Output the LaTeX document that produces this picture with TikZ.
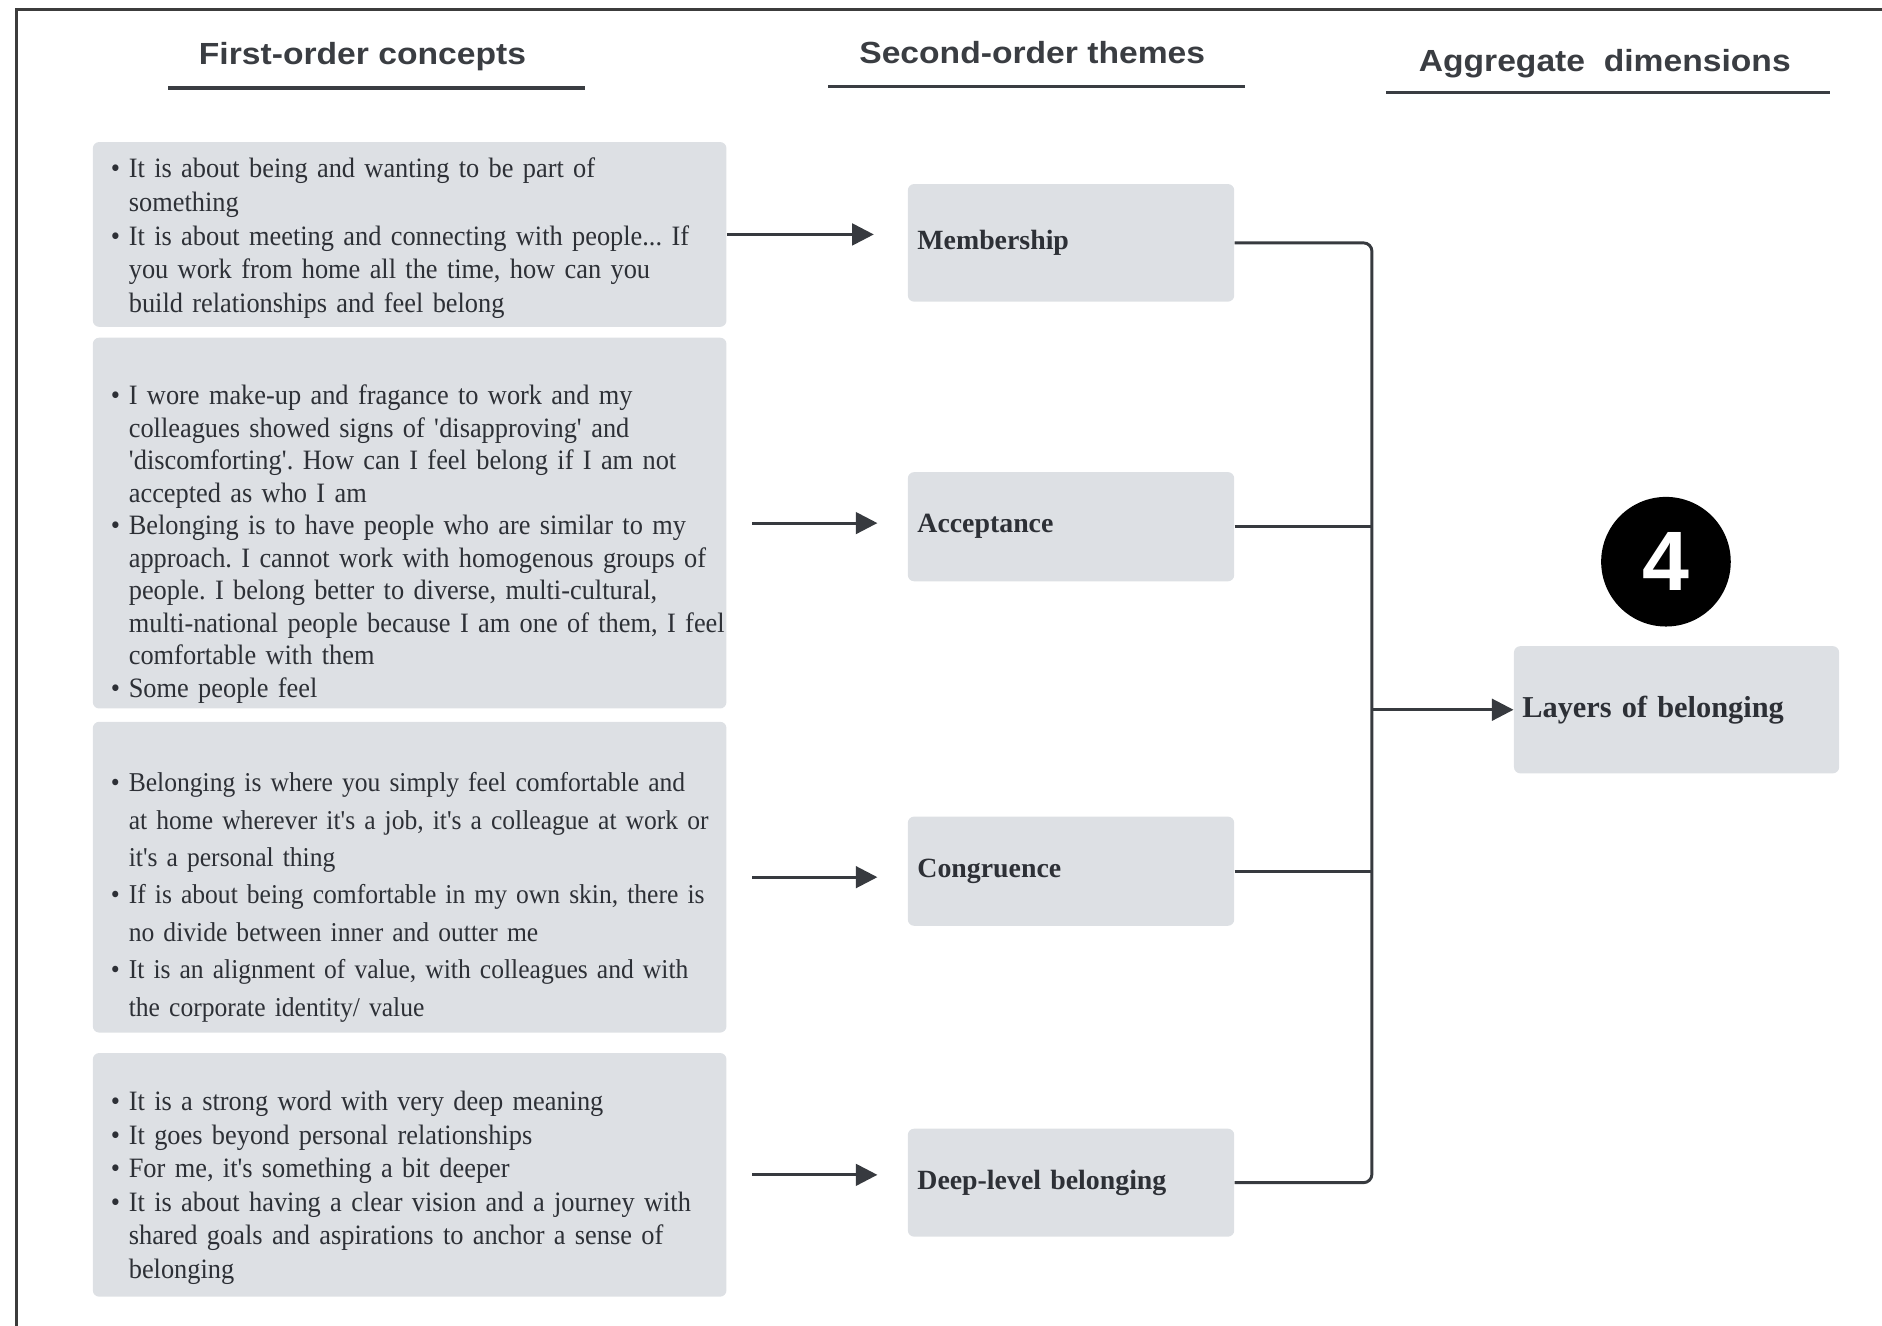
\documentclass[tikz,border=0pt]{standalone}
\usepackage{fontspec}
\setmainfont{Liberation Serif}
\setsansfont{Liberation Sans}
\newfontfamily\headfont[FakeStretch=1.1]{Liberation Sans}
\newfontfamily\quotefont[FakeStretch=0.94]{Liberation Serif}
\usepackage{tikz}
\usetikzlibrary{arrows.meta,positioning}
\definecolor{boxgray}{RGB}{221,224,228}
\definecolor{inkgray}{RGB}{45,48,54}
\definecolor{headgray}{RGB}{58,61,66}
\definecolor{linegray}{RGB}{55,58,63}
\definecolor{framegray}{RGB}{60,60,60}

\begin{document}
\frenchspacing
\begin{tikzpicture}[
      x=0.02cm, y=-0.02cm,
      head/.style={font=\headfont\bfseries\fontsize{14.5}{16}\selectfont,
        text=headgray, inner sep=0pt},
      hrule/.style={line width=1.8pt, draw=headgray},
      frame/.style={line width=1.5pt, draw=framegray},
      qbox/.style={fill=boxgray, rounded corners=3pt, anchor=north west,
        inner sep=0pt, minimum width=10.56cm},
      qtext/.style={anchor=north west, inner sep=0pt, text width=11cm,
        align=left, text=inkgray},
      theme/.style={fill=boxgray, rounded corners=3pt, anchor=north west,
        minimum width=5.44cm, text width=5.12cm, inner xsep=0.16cm,
        align=left, text=inkgray, font=\bfseries\fontsize{13.2}{15}\selectfont},
      badge/.style={circle, fill=black, minimum size=2.16cm, inner sep=0pt,
        text=white, font=\sffamily\bfseries\fontsize{40}{40}\selectfont},
      flow/.style={-{Triangle[length=0.36cm, width=0.36cm]}, line width=1.4pt,
        draw=linegray},
      link/.style={line width=1.4pt, draw=linegray, rounded corners=4pt}
    ]
    \newcommand{\qitem}{\par\hangindent=0.3cm\hangafter=1\noindent
      \makebox[0.3cm][l]{\textbullet}}

    \useasboundingbox (0,0) rectangle (1568,1104);
    \draw[frame] (14,1120) -- (14,8) -- (1590,8);

    \node[head] (h1) at (302,47) {First-order concepts};
    \node[head] (h2) at (860,44) {Second-order themes};
    \node[head] (h3) at (1337,53) {Aggregate\ \ dimensions};
    \draw[hrule] (140,73) -- (487,73);
    \draw[hrule] (690,72) -- (1037,72);
    \draw[hrule] (1155,77) -- (1525,77);

    \node[qbox, minimum height=3.08cm] (fo1) at (77,118) {};
    \node[qtext, font=\quotefont\fontsize{13.3}{15.9}\selectfont] (fo1txt)
      at (92,120)
      {\qitem It is about being and wanting to be part of\newline something
       \qitem It is about meeting and connecting with people... If\newline
       you work from home all the time, how can you\newline
       build relationships and feel belong\par};

    \node[qbox, minimum height=6.18cm] (fo2) at (77,281) {};
    \node[qtext, font=\quotefont\fontsize{13.3}{15.4}\selectfont] (fo2txt)
      at (92,310)
      {\qitem I wore make-up and fragance to work and my\newline
       colleagues showed signs of \textquotesingle disapproving\textquotesingle\ and\newline
       \textquotesingle discomforting\textquotesingle. How can I feel belong if I am not\newline
       accepted as who I am
       \qitem Belonging is to have people who are similar to my\newline
       approach. I cannot work with homogenous groups of\newline
       people. I belong better to diverse, multi-cultural,\newline
       multi-national people because I am one of them, I feel\newline
       comfortable with them
       \qitem Some people feel\par};

    \node[qbox, minimum height=5.18cm] (fo3) at (77,601) {};
    \node[qtext, font=\quotefont\fontsize{12.9}{17.75}\selectfont] (fo3txt)
      at (92,628)
      {\qitem Belonging is where you simply feel comfortable and\newline
       at home wherever it's a job, it's a colleague at work or\newline
       it's a personal thing
       \qitem If is about being comfortable in my own skin, there is\newline
       no divide between inner and outter me
       \qitem It is an alignment of value, with colleagues and with\newline
       the corporate identity/ value\par};

    \node[qbox, minimum height=4.06cm] (fo4) at (77,877) {};
    \node[qtext, font=\quotefont\fontsize{13.3}{15.9}\selectfont] (fo4txt)
      at (92,897)
      {\qitem It is a strong word with very deep meaning
       \qitem It goes beyond personal relationships
       \qitem For me, it's something a bit deeper
       \qitem It is about having a clear vision and a journey with\newline
       shared goals and aspirations to anchor a sense of\newline
       belonging\par};

    \node[theme, minimum height=1.96cm] (so1) at (756,153) {Membership};
    \node[theme, minimum height=1.82cm] (so2) at (756,393) {Acceptance};
    \node[theme, minimum height=1.82cm] (so3) at (756,680) {Congruence};
    \node[theme, minimum height=1.8cm] (so4) at (756,940) {Deep-level belonging};

    \node[theme, minimum width=5.42cm, text width=5.14cm, inner xsep=0.14cm,
      minimum height=2.12cm, font=\bfseries\fontsize{14.4}{17}\selectfont]
      (ad1) at (1261,538) {Layers of belonging};
    \node[badge] (num) at (1388,468) {4};

    \draw[flow] (fo1.east) -- ([xshift=-0.56cm]so1.west |- fo1.east);
    \draw[flow] ([xshift=0.42cm]fo2.east) -- ([xshift=-0.5cm]so2.west |- fo2.east);
    \draw[flow] ([xshift=0.42cm]fo3.east) -- ([xshift=-0.5cm]so3.west |- fo3.east);
    \draw[flow] ([xshift=0.42cm]fo4.east) -- ([xshift=-0.5cm]so4.west |- fo4.east);

    \coordinate (bus) at ([xshift=-2.36cm]ad1.west);
    \draw[link] (so1.east) -| (bus) |- (so4.east);
    \draw[link] (so2.east) -- (so2.east -| bus);
    \draw[link] (so3.east) -- (so3.east -| bus);
    \draw[flow] (bus) -- (ad1.west);
  \end{tikzpicture}
\end{document}
